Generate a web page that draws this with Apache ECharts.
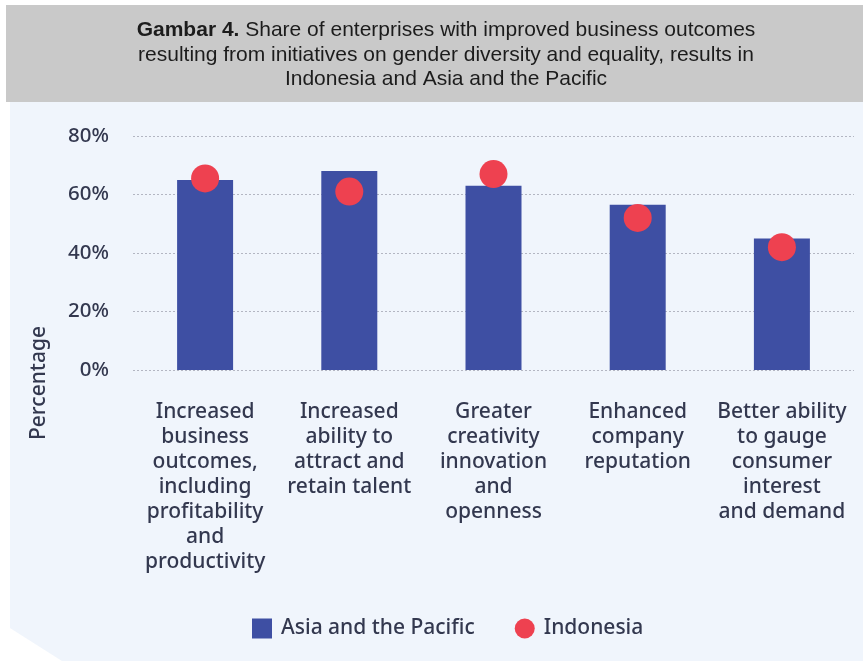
<!DOCTYPE html>
<html>
<head>
<meta charset="utf-8">
<script src="https://cdn.jsdelivr.net/npm/echarts@6/dist/echarts.min.js"></script>
<style>
  html, body { margin: 0; padding: 0; background: #fff; }
  #chart { width: 863px; height: 661px; }
</style>
</head>
<body>
<div id="chart"></div>
<script>
const categories = [
  "Increased\nbusiness\noutcomes,\nincluding\nprofitability\nand\nproductivity",
  "Increased\nability to\nattract and\nretain talent",
  "Greater\ncreativity\ninnovation\nand\nopenness",
  "Enhanced\ncompany\nreputation",
  "Better ability\nto gauge\nconsumer\ninterest\nand demand"
];
const asiaPacific = [65, 68, 63, 56.5, 45];
const indonesia = [65.5, 61, 67, 52, 42];
const yTicks = [0, 20, 40, 60, 80];

const textColor = "#33384f";
const chart = echarts.init(document.getElementById("chart"));

const option = {
  backgroundColor: "#fff",
  animation: false,
  textStyle: { fontFamily: "Noto Sans" },
  title: {
    text: "{b|Gambar 4.} Share of enterprises with improved business outcomes\nresulting from initiatives on gender diversity and equality, results in\nIndonesia and Asia and the Pacific",
    left: 441,
    top: 13,
    textAlign: "center",
    textStyle: {
      fontFamily: "Liberation Sans",
      fontSize: 21,
      fontWeight: "normal",
      color: "#1c1c1c",
      lineHeight: 24.5,
      rich: {
        b: { fontFamily: "Liberation Sans", fontSize: 21, fontWeight: "bold", color: "#1c1c1c" }
      }
    }
  },
  graphic: [
    {
      type: "rect",
      z: -10,
      silent: true,
      shape: { x: 6, y: 5, width: 857, height: 97 },
      style: { fill: "#c9c9c9" }
    },
    {
      type: "polygon",
      z: -10,
      silent: true,
      shape: { points: [[10, 102], [863, 102], [863, 661], [62, 661], [10, 628]] },
      style: { fill: "#f0f5fc" }
    },
    {
      type: "text",
      x: 39,
      y: 383,
      rotation: Math.PI / 2,
      style: {
        text: "Percentage",
        fontFamily: "Noto Sans",
        fontSize: 21,
        fontWeight: 500,
        fill: textColor,
        align: "center",
        verticalAlign: "middle"
      }
    }
  ],
  legend: {
    top: 613,
    left: 247,
    itemGap: 40,
    itemWidth: 20,
    itemHeight: 20,
    textStyle: { fontFamily: "Noto Sans", fontSize: 21, fontWeight: 500, color: textColor, padding: [0, 0, 0, 4] },
    data: [
      { name: "Asia and the Pacific", icon: "rect" },
      { name: "Indonesia", icon: "circle" }
    ]
  },
  grid: { left: 133, right: 9, top: 136, bottom: 291, containLabel: false },
  xAxis: {
    type: "category",
    data: categories,
    axisLine: { show: false },
    axisTick: { show: false },
    axisLabel: {
      interval: 0,
      margin: 30,
      fontSize: 21,
      fontWeight: 500,
      lineHeight: 25,
      color: textColor,
      align: "center"
    }
  },
  yAxis: {
    type: "value",
    min: yTicks[0],
    max: yTicks[yTicks.length - 1],
    interval: 20,
    axisLine: { show: false },
    axisTick: { show: false },
    axisLabel: {
      formatter: "{value}%",
      fontSize: 20.5,
      fontWeight: 500,
      margin: 24,
      color: textColor
    },
    splitLine: {
      lineStyle: { type: [2, 2], color: "#b3b6c2", width: 1 }
    }
  },
  series: [
    {
      name: "Asia and the Pacific",
      type: "bar",
      data: asiaPacific,
      barWidth: 56,
      itemStyle: { color: "#3e4fa3" },
      z: 2
    },
    {
      name: "Indonesia",
      type: "scatter",
      data: indonesia,
      symbol: "circle",
      symbolSize: 28,
      itemStyle: { color: "#ee4150", opacity: 1 },
      z: 3
    }
  ]
};

chart.setOption(option);
</script>
</body>
</html>
